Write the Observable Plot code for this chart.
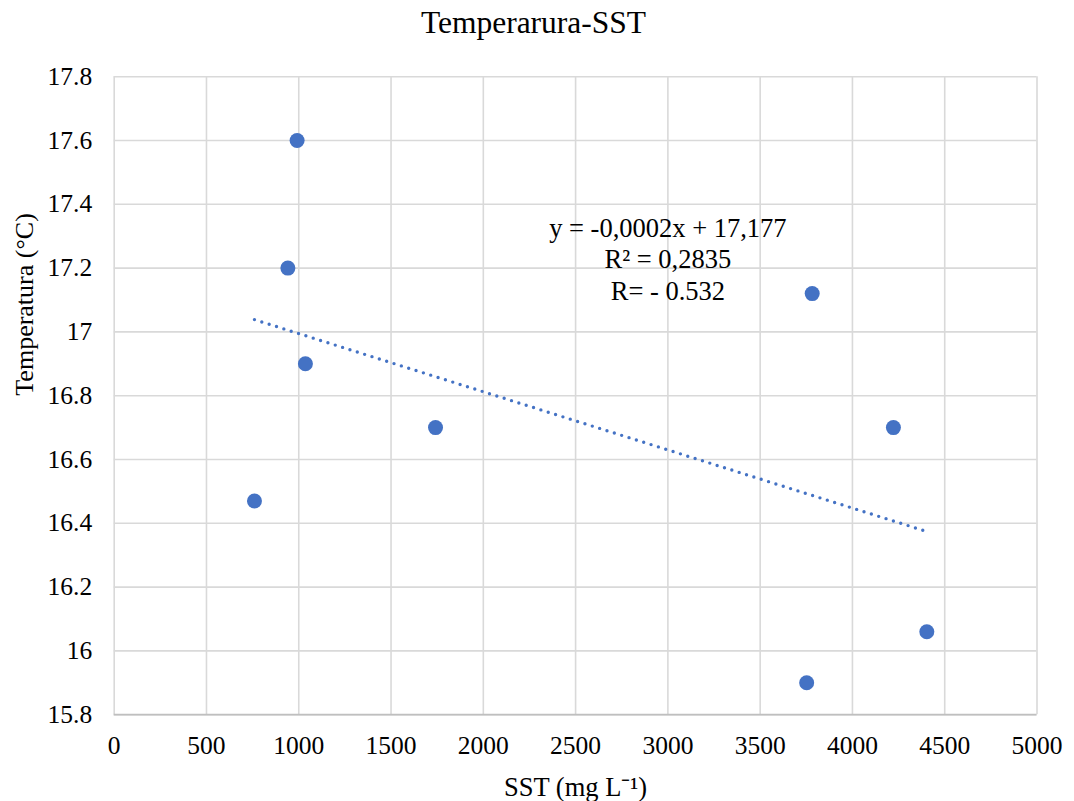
<!DOCTYPE html>
<html><head><meta charset="utf-8">
<script src="https://cdn.jsdelivr.net/npm/d3@7"></script>
<script src="https://cdn.jsdelivr.net/npm/@observablehq/plot@0.6"></script>
<style>
body{margin:0;background:#fff;}
#title{width:1074px;height:47px;line-height:45px;text-align:center;box-sizing:border-box;padding-right:7px;font-family:"Liberation Serif","Times New Roman",serif;font-size:31.5px;color:#000;overflow:visible;}
#chart svg, #chart svg text{font-family:"Liberation Serif","Times New Roman",serif !important;}
</style></head><body>
<div id="title">Temperarura-SST</div>
<div id="chart"></div>
<script>
// Data
const sst  = [760, 941, 991, 1036, 1741, 3752, 3782, 4222, 4403];
const temp = [16.47, 17.2, 17.6, 16.9, 16.7, 15.9, 17.12, 16.7, 16.06];

// Tick labels
const xTicks = [0, 500, 1000, 1500, 2000, 2500, 3000, 3500, 4000, 4500, 5000];
const yTicks = [15.8, 16, 16.2, 16.4, 16.6, 16.8, 17, 17.2, 17.4, 17.6, 17.8];

// Texts
const xLabel = "SST (mg L\u207B\u00B9)";
const yLabel = "Temperatura (\u00B0C)";
const eqLines = ["y = -0,0002x + 17,177", "R\u00B2 = 0,2835", "R= - 0.532"];

const points = sst.map((x, i) => ({x, y: temp[i]}));
const font = "Liberation Serif";
const blue = "#4472C4";

const chart = Plot.plot({
  width: 1074,
  height: 754,
  marginTop: 29.2,
  marginBottom: 86.8,
  marginLeft: 113.7,
  marginRight: 37.5,
  style: {fontFamily: font, fontSize: "25px", color: "#000", background: "#fff"},
  x: {domain: [0, 5000]},
  y: {domain: [15.8, 17.8]},
  marks: [
    Plot.gridX(xTicks, {stroke: "#d9d9d9", strokeOpacity: 1, strokeWidth: 1.6}),
    Plot.gridY(yTicks, {stroke: "#d9d9d9", strokeOpacity: 1, strokeWidth: 1.6}),
    Plot.ruleY([15.8], {stroke: "#bfbfbf", strokeWidth: 1.8}),
    Plot.axisX({ticks: xTicks, tickSize: 0, tickPadding: 21, tickFormat: d => String(d), label: null, fontSize: 25.5, fontFamily: font}),
    Plot.axisY({ticks: yTicks, tickSize: 0, tickPadding: 22, tickFormat: d => String(d), label: null, fontSize: 25.5, fontFamily: font}),
    Plot.linearRegressionY(points, {x: "x", y: "y", ci: 0, stroke: blue, strokeWidth: 3.4, strokeDasharray: "0 7.7", strokeLinecap: "round"}),
    Plot.dot(points, {x: "x", y: "y", r: 7.5, fill: blue}),
    Plot.text([eqLines.join("\n")], {x: () => 3000, y: () => 17.1, text: d => d, lineAnchor: "bottom", lineHeight: 1.19, fontSize: 26.5, fontFamily: font, fill: "#000"}),
    Plot.text([xLabel], {frameAnchor: "bottom", dy: 81, lineAnchor: "bottom", text: d => d, fontSize: 26.5, fontFamily: font, fill: "#000"}),
    Plot.text([yLabel], {frameAnchor: "left", rotate: -90, dx: -81.7, lineAnchor: "bottom", text: d => d, fontSize: 26, fontFamily: font, fill: "#000"})
  ]
});
document.getElementById("chart").appendChild(chart);
</script></body></html>
